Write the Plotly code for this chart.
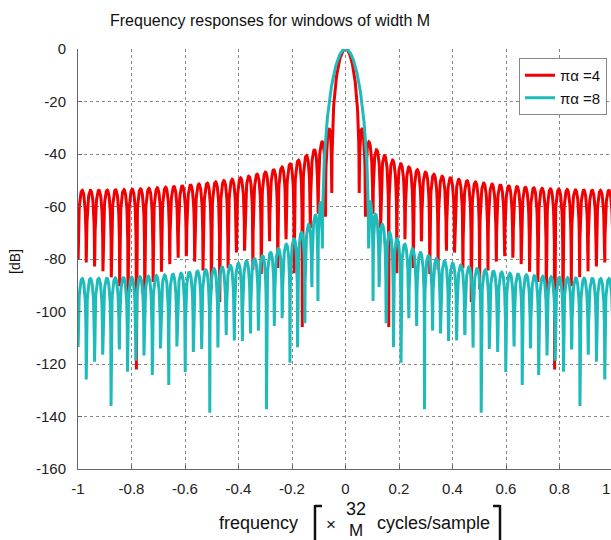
import numpy as np
import plotly.graph_objects as go

# ---- data definition (window parameters shown in the chart) ----
PI_ALPHA = [4, 8]                 # Kaiser parameter πα for each curve
SERIES_NAMES = ["πα =4", "πα =8"]
WINDOW_WIDTH_M = 64               # window width M (x = ±1 -> ±32/M cycles/sample)
FREQ_SAMPLES = 2048               # number of frequency samples across the plotted band
X_TICKS = [-1, -0.8, -0.6, -0.4, -0.2, 0, 0.2, 0.4, 0.6, 0.8, 1]
X_TICK_TEXT = ["-1", "-0.8", "-0.6", "-0.4", "-0.2", "0", "0.2", "0.4", "0.6", "0.8", "1"]
Y_TICKS = [-160, -140, -120, -100, -80, -60, -40, -20, 0]
Y_TICK_TEXT = [str(v) for v in Y_TICKS]

COLORS = ["#F00000", "#1FBABA"]
FONT = "Liberation Sans, Arial, sans-serif"


def kaiser_response(pa):
    w = np.kaiser(WINDOW_WIDTH_M, pa)
    # frequency grid in units of 32/M cycles/sample (half-step offset, symmetric)
    k = np.arange(FREQ_SAMPLES)
    x = -1 + (k + 0.5) * 2.0 / FREQ_SAMPLES
    f = x * 32.0 / WINDOW_WIDTH_M
    n = np.arange(WINDOW_WIDTH_M) - (WINDOW_WIDTH_M - 1) / 2.0
    W = np.exp(-2j * np.pi * np.outer(f, n)) @ w
    mag = np.abs(W) / np.abs(w.sum())
    db = 20 * np.log10(np.maximum(mag, 1e-12))
    return x, db


# layout geometry (pixels)
W_PX, H_PX = 611, 540
L, R, T, B = 78, 0, 49, 71
PW, PH = W_PX - L - R, H_PX - T - B
X_PER_UNIT = 267.5
X_MAX = -1 + PW / X_PER_UNIT


def px(xp):
    return (xp - L) / PW


def py(yp):
    return (H_PX - B - yp) / PH


fig = go.Figure()
for pa, name, col in zip(PI_ALPHA, SERIES_NAMES, COLORS):
    x, db = kaiser_response(pa)
    fig.add_trace(go.Scatter(x=x, y=db, mode="lines", name=name,
                             line=dict(color=col, width=3)))

axis_common = dict(showgrid=True, gridcolor="#8a8a8a", griddash="dot", gridwidth=1,
                   showline=True, linecolor="#666666", linewidth=1,
                   ticks="inside", ticklen=4, tickcolor="#666666",
                   zeroline=False, tickfont=dict(family=FONT, size=15, color="#222222"))

fig.update_layout(
    width=W_PX, height=H_PX,
    margin=dict(l=L, r=R, t=T, b=B, pad=0),
    paper_bgcolor="white", plot_bgcolor="white",
    font=dict(family=FONT, color="#111111"),
    xaxis=dict(range=[-1, X_MAX], tickvals=X_TICKS, ticktext=X_TICK_TEXT,
               ticklabelstandoff=6, **axis_common),
    yaxis=dict(range=[-160, 0], tickvals=Y_TICKS, ticktext=Y_TICK_TEXT,
               ticklabelstandoff=8, **axis_common),
    legend=dict(x=px(607), y=py(58), xanchor="right", yanchor="top",
                bgcolor="white", bordercolor="#888888", borderwidth=1,
                font=dict(family=FONT, size=15, color="#111111")),
    showlegend=True,
)


def note(text, xp, yp, size, angle=0, color="#111111"):
    return dict(text=text, x=px(xp), y=py(yp), xref="paper", yref="paper",
                xanchor="center", yanchor="middle", showarrow=False, textangle=angle,
                font=dict(family=FONT, size=size, color=color))


ann = [
    note("Frequency responses for windows of width M", 270, 20, 16),
    note("[dB]", 15, 262, 14, angle=-90),
    note("1", 606, 488, 15, color="#222222"),       # last tick label at the right edge
    note("frequency", 258, 523, 18),
    note("×", 331, 524, 17),
    note("32", 356, 509, 18),
    note("M", 356, 530, 17),
    note("cycles/sample", 433, 523, 18),
]
fig.update_layout(annotations=ann)

shapes = []
# brackets around the unit expression
for xs in [(315, 322), (500, 493)]:
    shapes.append(dict(type="line", xref="paper", yref="paper",
                       x0=px(xs[0]), x1=px(xs[0]), y0=py(505), y1=py(545),
                       line=dict(color="#111111", width=2.5)))
    shapes.append(dict(type="line", xref="paper", yref="paper",
                       x0=px(xs[0]), x1=px(xs[1]), y0=py(506), y1=py(506),
                       line=dict(color="#111111", width=2.5)))
fig.update_layout(shapes=shapes)

fig.write_html("out.html")
